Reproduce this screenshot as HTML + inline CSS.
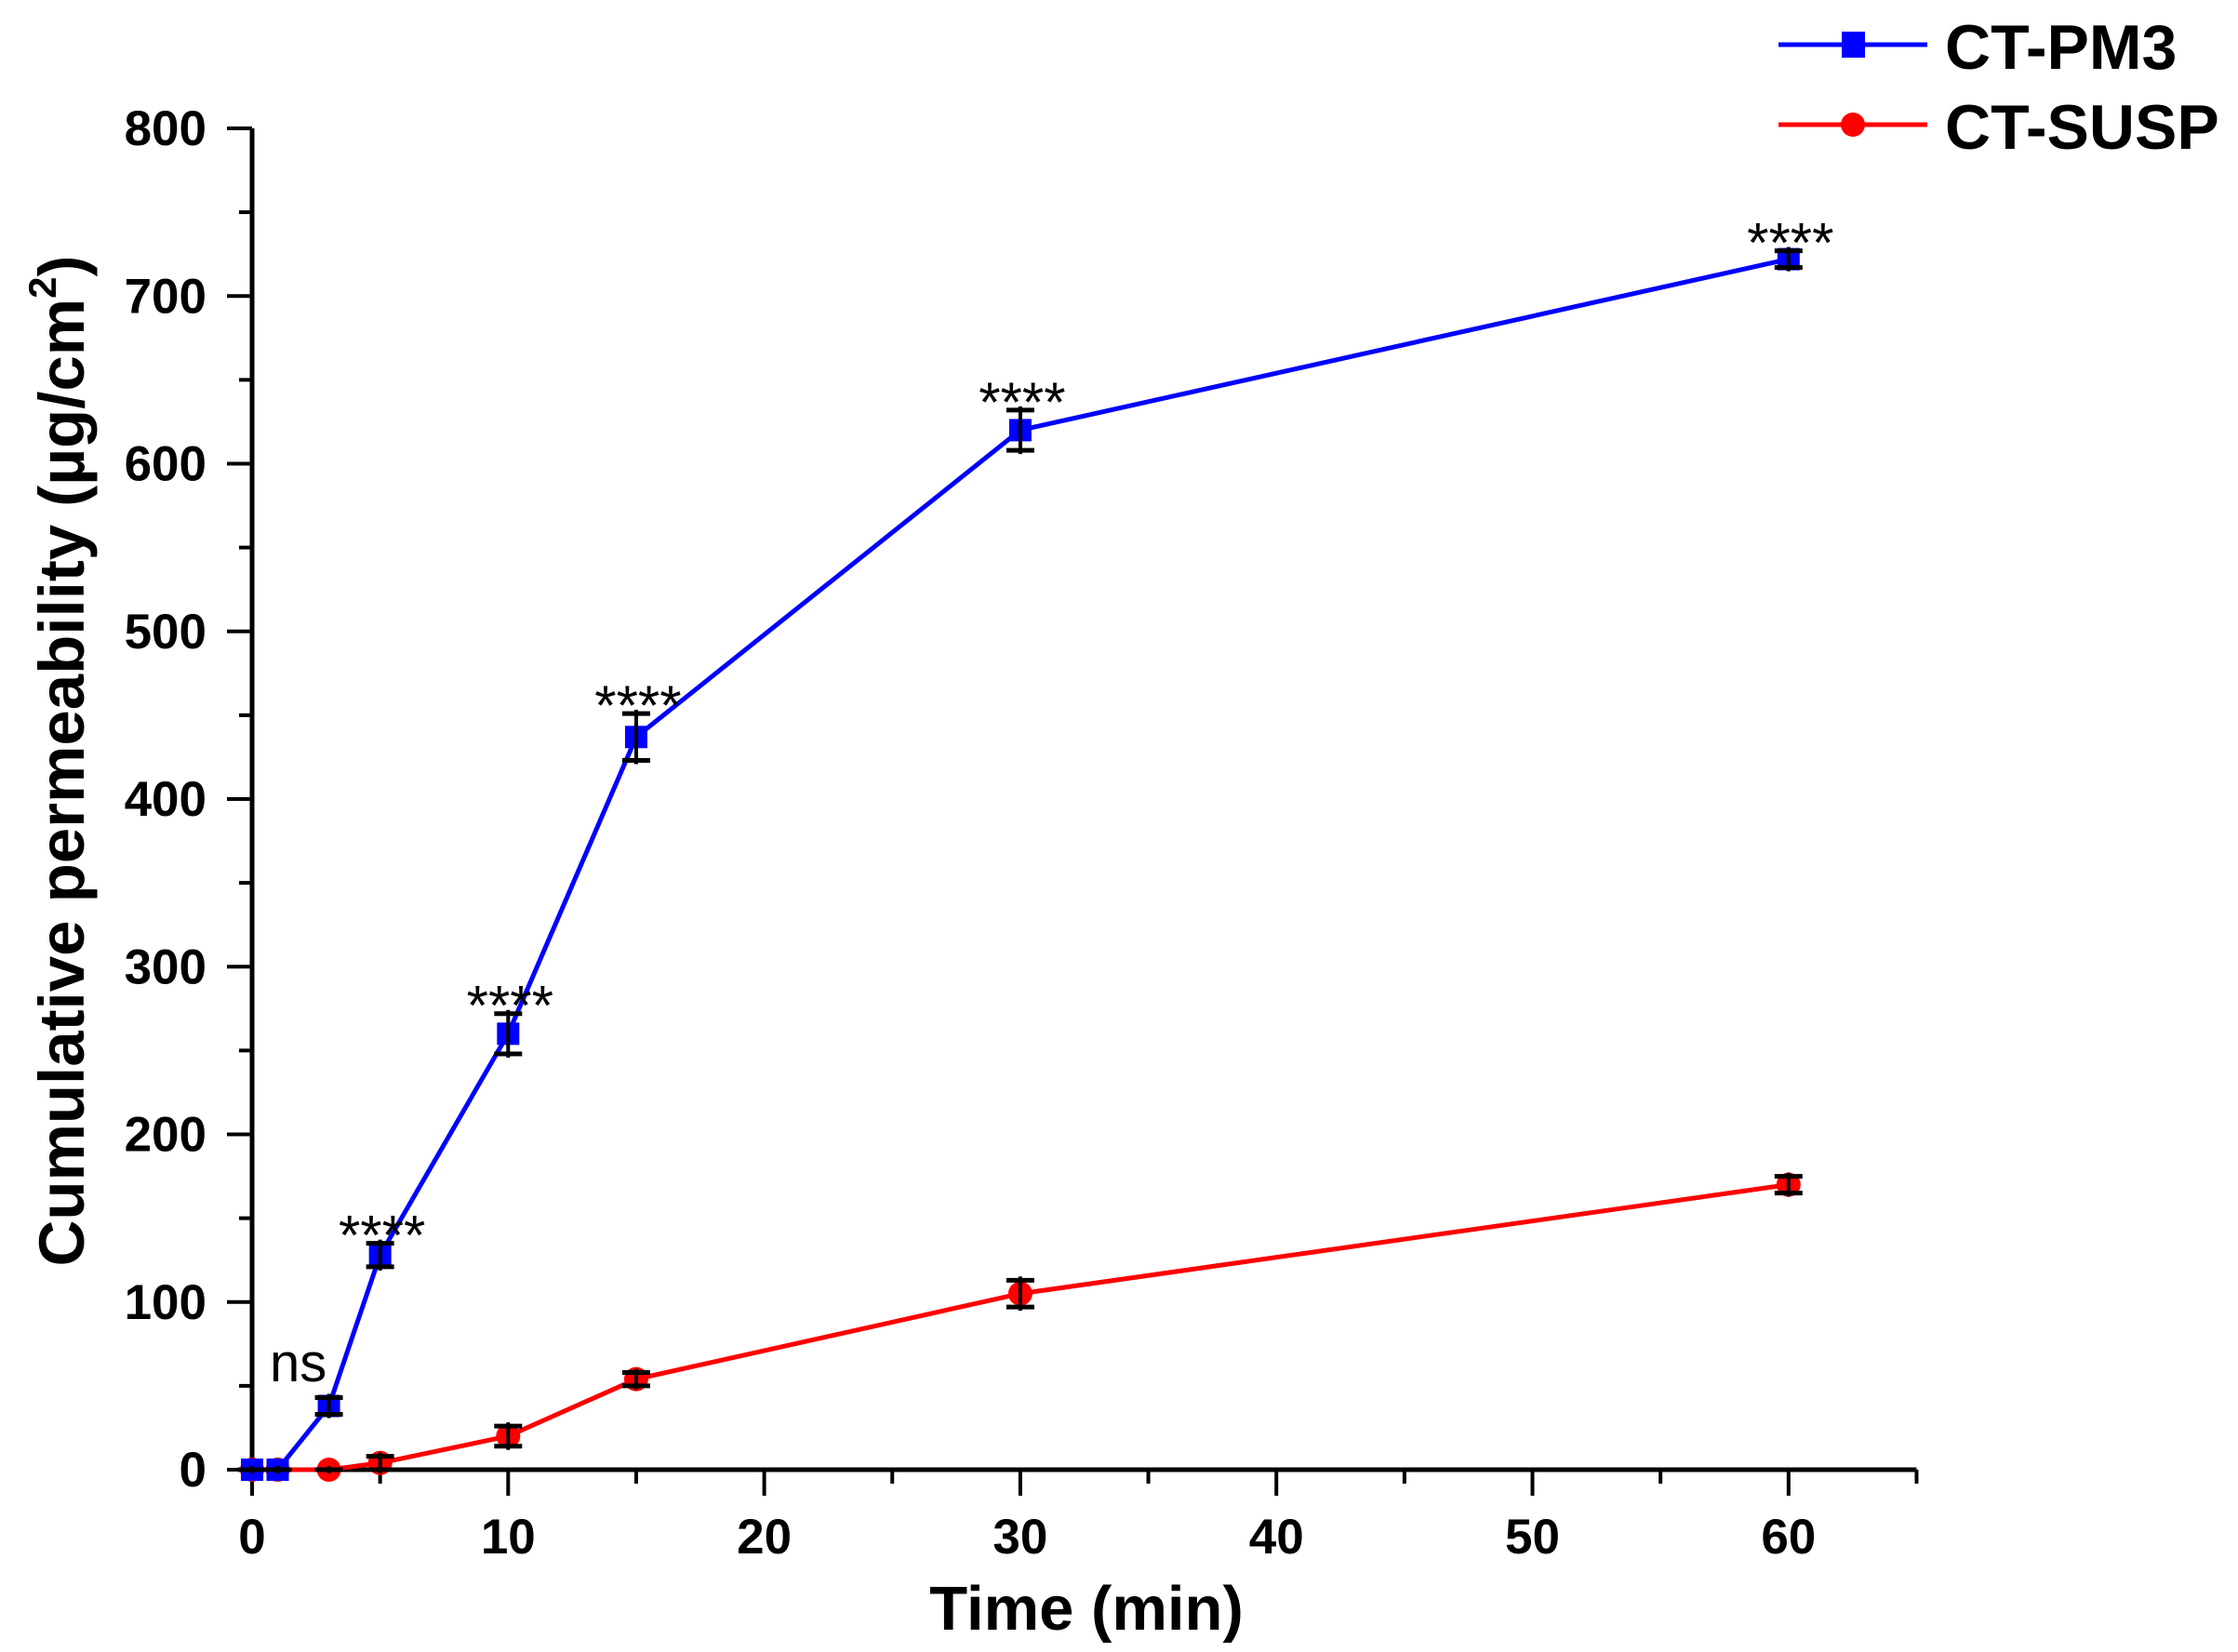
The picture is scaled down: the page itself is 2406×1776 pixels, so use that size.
<!DOCTYPE html>
<html><head><meta charset="utf-8"><style>
html,body{margin:0;padding:0;background:#fff;}
svg{display:block;font-family:"Liberation Sans",Arial,sans-serif;}
</style></head><body>
<svg id="chart" width="2406" height="1776" viewBox="0 0 2406 1776">
<g id="axes"></g>
<g id="series"></g>
<g id="annots"></g>
<text x="1168" y="1752" font-size="67" font-weight="bold" text-anchor="middle">Time (min)</text>
<text transform="translate(90,818) rotate(-90)" font-size="69" font-weight="bold" text-anchor="middle">Cumulative permeability (µg/cm<tspan dy="-30" font-size="42">2</tspan><tspan dy="30">)</tspan></text>
<g>
<g>
<line x1="1912" y1="48" x2="2072" y2="48" stroke="#0000ff" stroke-width="5"/>
<rect x="1980" y="34" width="25" height="28" fill="#0000ff"/>
<text x="2091" y="74" font-size="68" font-weight="bold">CT-PM3</text>
</g>
<g>
<line x1="1912" y1="134" x2="2072" y2="134" stroke="#ff0000" stroke-width="5"/>
<circle cx="1992" cy="134" r="13" fill="#ff0000"/>
<text x="2091" y="160" font-size="68" font-weight="bold">CT-SUSP</text>
</g>
</g>
</svg>
<script>
const times=[0,1,3,5,10,15,30,60];
const pm3=[0,0,38,128,260,437,620,722];
const pm3Err=[0,0,5,7,12,14,12,5];
const susp=[0,0,0,4,20,54,105,170];
const suspErr=[0,0,0,4,6,4,8,5];
const xTicks=[0,10,20,30,40,50,60];
const yTicks=[0,100,200,300,400,500,600,700,800];
const annTimes=[3,5,10,15,30,60];
const annLabels=["ns","****","****","****","****","****"];

const NS="http://www.w3.org/2000/svg";
const X0=271,XS=27.53,Y0=1580,YS=1.8025;
const sx=t=>X0+t*XS, sy=v=>Y0-v*YS;
function mk(tag,attrs,parent){const e=document.createElementNS(NS,tag);for(const k in attrs)e.setAttribute(k,attrs[k]);parent.appendChild(e);return e;}
const axes=document.getElementById('axes'),ser=document.getElementById('series'),ann=document.getElementById('annots');

let xa=mk('line',{x1:sx(0),y1:Y0,x2:sx(65),y2:Y0,stroke:'#000','stroke-width':5},axes);


let ya=mk('line',{x1:X0,y1:sy(0)+2,x2:X0,y2:sy(800),stroke:'#000','stroke-width':5},axes);


for(let t=0;t<=65;t+=5){const major=t%10===0;mk('line',{x1:sx(t),y1:Y0,x2:sx(t),y2:Y0+(major?28:15),stroke:'#000','stroke-width':4},axes);}
for(let v=0;v<=800;v+=50){const major=v%100===0;mk('line',{x1:X0,y1:sy(v),x2:X0-(major?27:14),y2:sy(v),stroke:'#000','stroke-width':4},axes);}
xTicks.forEach(t=>{const e=mk('text',{x:sx(t),y:1670,'font-size':53,'font-weight':'bold','text-anchor':'middle'},axes);e.textContent=t;

});
yTicks.forEach(v=>{const e=mk('text',{x:222,y:sy(v)+18,'font-size':53,'font-weight':'bold','text-anchor':'end'},axes);e.textContent=v;

});

function drawSeries(vals,errs,color,shape,name){
  const pts=times.map((t,i)=>sx(t)+','+sy(vals[i])).join(' ');
  const pl=mk('polyline',{points:pts,fill:'none',stroke:color,'stroke-width':5},ser);
  
  
  times.forEach((t,i)=>{
    const x=sx(t),y=sy(vals[i]);let m;
    if(shape==='square')m=mk('rect',{x:x-12,y:y-12,width:24,height:24,fill:color},ser);
    else m=mk('circle',{cx:x,cy:y,r:13,fill:color},ser);
    
    
    const e=errs[i];const y1=sy(vals[i]+e),y2=sy(vals[i]-e);
    mk('line',{x1:x,y1:y1-4,x2:x,y2:y2+4,stroke:'#000','stroke-width':4},ser);
    mk('line',{x1:x-15,y1:y1,x2:x+15,y2:y1,stroke:'#000','stroke-width':5},ser);
    mk('line',{x1:x-15,y1:y2,x2:x+15,y2:y2,stroke:'#000','stroke-width':5},ser);
  });
}
drawSeries(susp,suspErr,'#ff0000','circle','ct-susp');
drawSeries(pm3,pm3Err,'#0000ff','square','ct-pm3');

annTimes.forEach((t,i)=>{
  const idx=times.indexOf(t);const isNs=annLabels[i]==='ns';
  const e=mk('text',{x:sx(t)+(isNs?-33:2),y:isNs?1485:sy(pm3[idx]+pm3Err[idx])+12,'font-size':isNs?58:60,'text-anchor':'middle'},ann);
  e.textContent=annLabels[i];
  
  
});
</script>
</body></html>
